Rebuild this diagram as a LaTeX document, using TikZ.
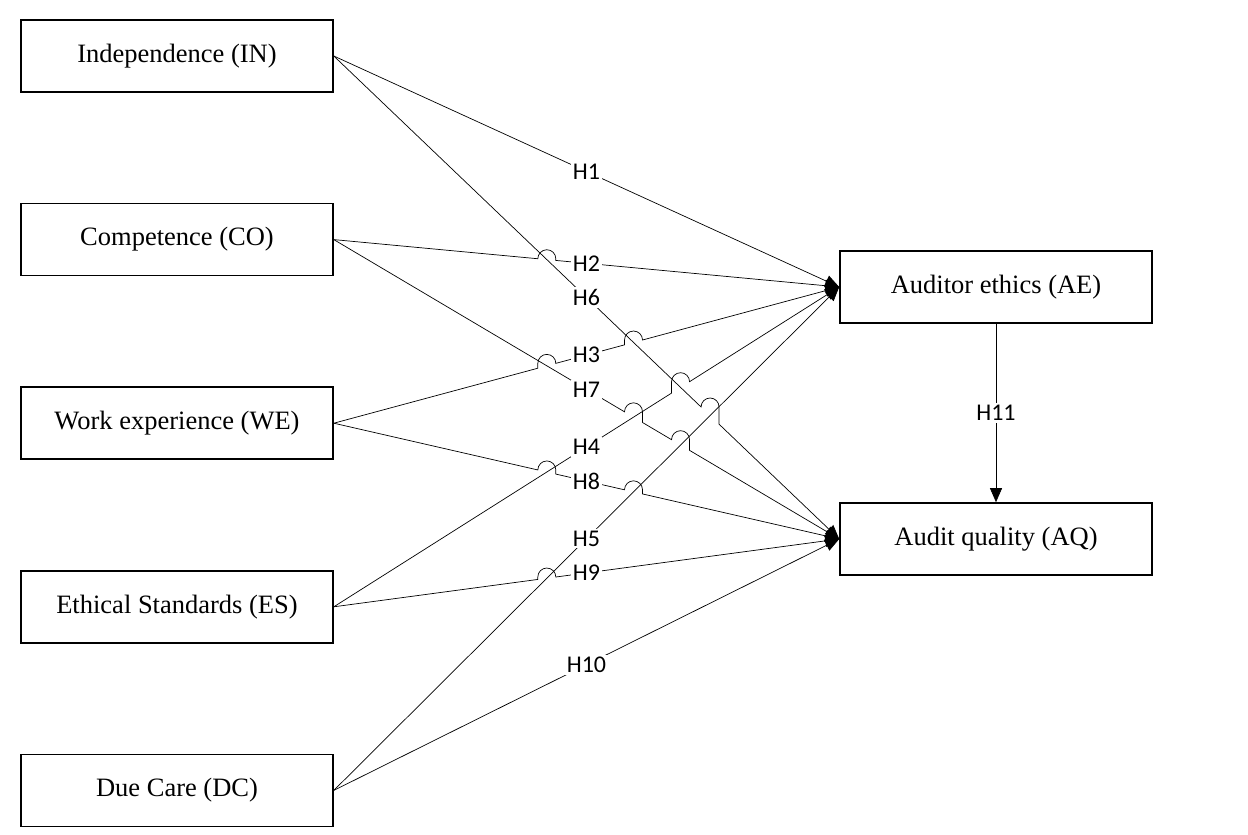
\documentclass[tikz,border=0pt]{standalone}
\usepackage{fontspec}
\setmainfont{Liberation Serif}
\newfontfamily\labelfont{Carlito}
\usetikzlibrary{positioning}
\usetikzlibrary{arrows.meta}
\usetikzlibrary{calc}
\usetikzlibrary{intersections}
% line hop over a crossing (slope of the line in \n1)
\newcommand{\hop}[1]{-- ($(#1)+(-9pt,{-9pt*(\n1)})$) -- ($(#1)+(-9pt,{9pt*abs(\n1)})$) arc[start angle=180, end angle=0, radius=9pt] -- ($(#1)+(9pt,{9pt*(\n1)})$)}

\begin{document}
\begin{tikzpicture}[x=1pt, y=-1pt, node distance=110pt,  block/.style={    draw,    rectangle,    line width=1.6pt,    minimum width=312pt,    minimum height=72pt,    align=center,    font=\fontsize{26.5}{31}\selectfont  },  arrow/.style={    -{Triangle[length=14pt,width=12pt]},    line width=0.7pt  },  hyp/.style={    fill=white,    inner sep=2pt,    font=\labelfont\fontsize{24}{28}\selectfont  }]
		\useasboundingbox (0,0) rectangle (1248,835);
		% Nodes
		\node[block] (IN) at (177,56) {Independence (IN)};
		\node[block, below=of IN] (CO) {Competence (CO)};
		\node[block, below=of CO] (WE) {Work experience (WE)};
		\node[block, below=of WE] (ES) {Ethical Standards (ES)};
		\node[block, below=of ES] (DC) {Due Care (DC)};
		\node[block] (AE) at (996,287) {Auditor ethics (AE)};
		\node[block] (AQ) at (996,539) {Audit quality (AQ)};
		% Crossings
		\path[name path=h2] (CO.east) -- (AE.west);
		\path[name path=h3] (WE.east) -- (AE.west);
		\path[name path=h4] (ES.east) -- (AE.west);
		\path[name path=h5] (DC.east) -- (AE.west);
		\path[name path=h6] (IN.east) -- (AQ.west);
		\path[name path=h7] (CO.east) -- (AQ.west);
		\path[name path=h8] (WE.east) -- (AQ.west);
		\path[name path=h9] (ES.east) -- (AQ.west);
		\path[name intersections={of=h2 and h6, by=c26}];
		\path[name intersections={of=h3 and h7, by=c37}];
		\path[name intersections={of=h3 and h6, by=c36}];
		\path[name intersections={of=h4 and h6, by=c46}];
		\path[name intersections={of=h6 and h5, by=c65}];
		\path[name intersections={of=h7 and h4, by=c74}];
		\path[name intersections={of=h7 and h5, by=c75}];
		\path[name intersections={of=h8 and h4, by=c84}];
		\path[name intersections={of=h8 and h5, by=c85}];
		\path[name intersections={of=h9 and h5, by=c95}];
		% Arrows
		\draw[arrow] (IN.east) -- (AE.west) node[hyp, midway] {H1};
		\draw[arrow] let \p1=(CO.east), \p2=(AE.west), \n1={(\y2-\y1)/(\x2-\x1)} in (CO.east) \hop{c26} -- (AE.west) node[hyp] at ($(CO.east)!0.5!(AE.west)$) {H2};
		\draw[arrow] let \p1=(WE.east), \p2=(AE.west), \n1={(\y2-\y1)/(\x2-\x1)} in (WE.east) \hop{c37} \hop{c36} -- (AE.west) node[hyp] at ($(WE.east)!0.5!(AE.west)$) {H3};
		\draw[arrow] let \p1=(ES.east), \p2=(AE.west), \n1={(\y2-\y1)/(\x2-\x1)} in (ES.east) \hop{c46} -- (AE.west) node[hyp] at ($(ES.east)!0.5!(AE.west)$) {H4};
		\draw[arrow] (DC.east) -- (AE.west) node[hyp, midway] {H5};
		\draw[arrow] let \p1=(IN.east), \p2=(AQ.west), \n1={(\y2-\y1)/(\x2-\x1)} in (IN.east) \hop{c65} -- (AQ.west) node[hyp] at ($(IN.east)!0.5!(AQ.west)$) {H6};
		\draw[arrow] let \p1=(CO.east), \p2=(AQ.west), \n1={(\y2-\y1)/(\x2-\x1)} in (CO.east) \hop{c74} \hop{c75} -- (AQ.west) node[hyp] at ($(CO.east)!0.5!(AQ.west)$) {H7};
		\draw[arrow] let \p1=(WE.east), \p2=(AQ.west), \n1={(\y2-\y1)/(\x2-\x1)} in (WE.east) \hop{c84} \hop{c85} -- (AQ.west) node[hyp] at ($(WE.east)!0.5!(AQ.west)$) {H8};
		\draw[arrow] let \p1=(ES.east), \p2=(AQ.west), \n1={(\y2-\y1)/(\x2-\x1)} in (ES.east) \hop{c95} -- (AQ.west) node[hyp] at ($(ES.east)!0.5!(AQ.west)$) {H9};
		\draw[arrow] (DC.east) -- (AQ.west) node[hyp, midway] {H10};
		\draw[arrow] (AE) -- (AQ) node[hyp, midway] {H11};
	\end{tikzpicture}
\end{document}
